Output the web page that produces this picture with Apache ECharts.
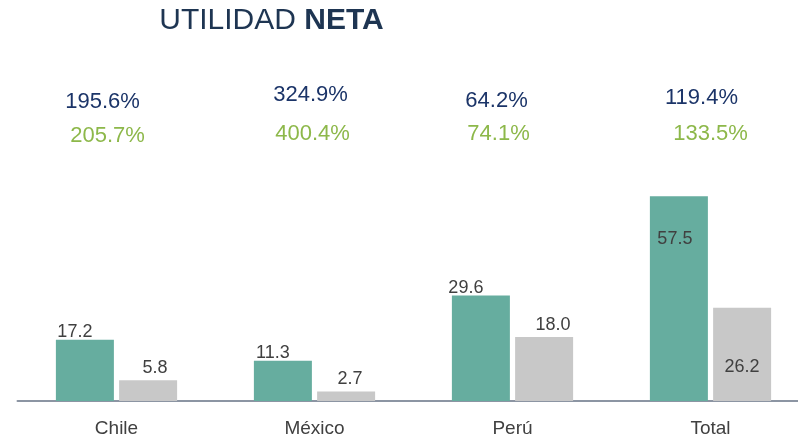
<!DOCTYPE html>
<html>
<head>
<meta charset="utf-8">
<script src="https://cdn.jsdelivr.net/npm/echarts@6/dist/echarts.min.js"></script>
<style>
  html, body { margin: 0; padding: 0; background: #fff; }
  #main { width: 798px; height: 441px; }
</style>
</head>
<body>
<div id="main"></div>
<script>
// data
const categories = ['Chile', 'México', 'Perú', 'Total'];
const actual = [17.2, 11.3, 29.6, 57.5];
const anterior = [5.8, 2.7, 18.0, 26.2];
const varNavy = [195.6, 324.9, 64.2, 119.4];
const varGreen = [205.7, 400.4, 74.1, 133.5];

// label placement tweaks (layout only)
const tealLabelDx = [-10, -10, -15, -4];
const grayLabelDx = [7, 4, 9, 0];
const navyDx = [-14, -4, -16, -9];
const navyY = [102, 95, 101, 98];
const greenDx = [-9, -2, -14, 0];
const greenY = [135, 133, 133, 133];

const TEAL = '#66ad9f';
const GRAY = '#c8c8c8';
const NAVY = '#1b3468';
const GREEN = '#8db84a';
const TXT = '#404040';
const FONT = 'Liberation Sans, Arial, sans-serif';

const chart = echarts.init(document.getElementById('main'));

function tealData() {
  return actual.map((v, i) => {
    const inside = i === 3;
    return {
      value: v,
      label: inside
        ? { position: 'insideTop', distance: 34, offset: [tealLabelDx[i], 0] }
        : { position: 'top', distance: -1, offset: [tealLabelDx[i], 0] }
    };
  });
}

function grayData() {
  return anterior.map((v, i) => {
    const inside = i === 3;
    return {
      value: v,
      label: inside
        ? { position: 'insideBottom', distance: 25, offset: [grayLabelDx[i], 0] }
        : { position: 'top', distance: 3, offset: [grayLabelDx[i], 0] }
    };
  });
}

chart.setOption({
  animation: false,
  textStyle: { fontFamily: FONT },
  grid: { left: 17.5, right: -11.5, top: 116, bottom: 40,
    containLabel: false, outerBoundsMode: 'none' },
  xAxis: {
    type: 'category',
    data: categories,
    axisLine: { lineStyle: { color: '#8c95a3', width: 2 } },
    axisTick: { show: false },
    axisLabel: { color: TXT, fontSize: 19, margin: 18, fontFamily: FONT }
  },
  yAxis: {
    type: 'value', min: 0, max: 80,
    show: false,
    splitLine: { show: false }
  },
  series: [
    {
      name: 'actual', type: 'bar', data: tealData(),
      barWidth: 58, barGap: '9%',
      itemStyle: { color: TEAL },
      label: { show: true, color: TXT, fontSize: 18, fontFamily: FONT,
        formatter: p => p.value.toFixed(1) }
    },
    {
      name: 'anterior', type: 'bar', data: grayData(),
      barWidth: 58,
      itemStyle: { color: GRAY },
      label: { show: true, color: TXT, fontSize: 18, fontFamily: FONT,
        formatter: p => p.value.toFixed(1) }
    }
  ]
});

// title and variation percentages, placed from the category axis
const elements = [{
  type: 'text',
  x: 271.5, y: 21,
  style: {
    text: '{r|UTILIDAD }{b|NETA}',
    align: 'center', verticalAlign: 'middle',
    rich: {
      r: { fontSize: 30, fill: '#1e3552', fontFamily: FONT },
      b: { fontSize: 30, fill: '#1e3552', fontWeight: 'bold', fontFamily: FONT }
    }
  }
}];

categories.forEach((c, i) => {
  const cx = chart.convertToPixel({ xAxisIndex: 0 }, c);
  elements.push({
    type: 'text', x: cx + navyDx[i], y: navyY[i],
    style: { text: varNavy[i].toFixed(1) + '%', fill: NAVY, fontSize: 22,
      fontFamily: FONT, align: 'center', verticalAlign: 'middle' }
  });
  elements.push({
    type: 'text', x: cx + greenDx[i], y: greenY[i] + 1,
    style: { text: varGreen[i].toFixed(1) + '%', fill: GREEN, fontSize: 22,
      fontFamily: FONT, align: 'center', verticalAlign: 'middle' }
  });
});

chart.setOption({ graphic: elements });
</script>
</body>
</html>
